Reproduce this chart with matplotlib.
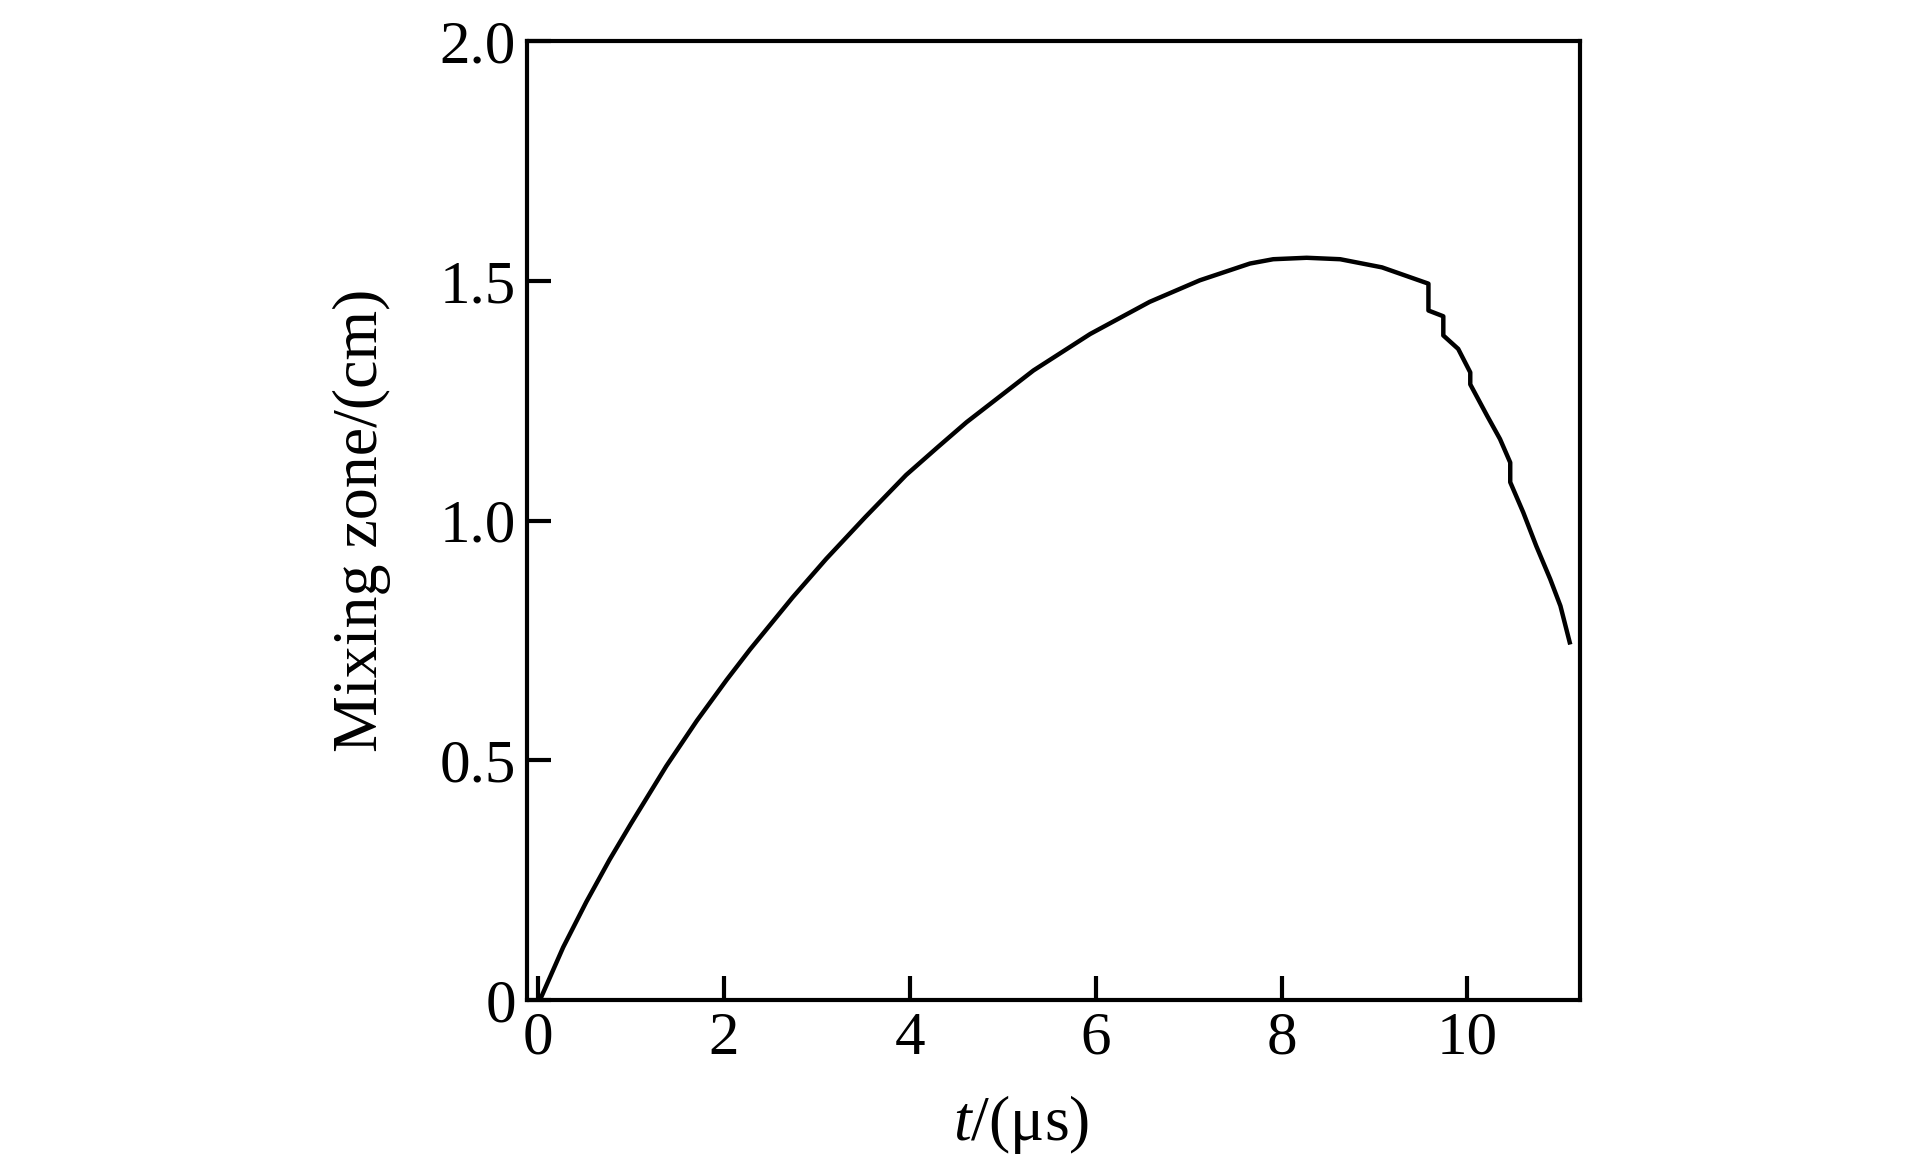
import numpy as np
import matplotlib
matplotlib.use("Agg")
import matplotlib.pyplot as plt

# Mixing zone width vs time
t_us = [0.02, 0.27, 0.52, 0.77, 1.00, 1.38, 1.71, 2.03, 2.28, 2.74, 3.10, 3.52,
        3.96, 4.30, 4.61, 5.33, 5.94, 6.58, 7.12, 7.66, 7.91, 8.27, 8.63, 9.08,
        9.58, 9.58, 9.74, 9.74, 9.90, 10.03, 10.03, 10.21, 10.35, 10.46, 10.46,
        10.60, 10.74, 10.89, 11.00, 11.10]
mix_cm = [0.0, 0.110, 0.205, 0.293, 0.368, 0.488, 0.583, 0.668, 0.731, 0.840,
          0.920, 1.007, 1.095, 1.153, 1.205, 1.313, 1.389, 1.456, 1.501, 1.536,
          1.545, 1.548, 1.545, 1.528, 1.494, 1.438, 1.426, 1.386, 1.358, 1.309,
          1.284, 1.219, 1.170, 1.121, 1.080, 1.017, 0.947, 0.878, 0.822, 0.746]

xticks = [0, 2, 4, 6, 8, 10]
yticks = [0, 0.5, 1.0, 1.5, 2.0]
ytick_labels = ["0", "0.5", "1.0", "1.5", "2.0"]

plt.rcParams['font.family'] = ['Liberation Serif', 'DejaVu Serif']
plt.rcParams['mathtext.fontset'] = 'custom'
plt.rcParams['mathtext.it'] = 'Liberation Serif:italic'
plt.rcParams['mathtext.rm'] = 'Liberation Serif'

fig = plt.figure(figsize=(19.23, 11.69), dpi=100)
ax = fig.add_axes([0.274, 0.1445, 0.5476, 0.8204])

ax.plot(t_us, mix_cm, color='black', lw=3.2, solid_joinstyle='round')

ax.set_xlim(-0.12, 11.21)
ax.set_ylim(0, 2.0)
ax.set_xticks(xticks)
ax.set_yticks(yticks)
ax.set_yticklabels(ytick_labels)

for s in ax.spines.values():
    s.set_linewidth(3.0)

ax.tick_params(direction='in', length=17, width=3.0, labelsize=44, pad=8,
               top=False, right=False)

ax.set_xlabel(r'$t$/(μs)', fontsize=46)
ax.set_ylabel('Mixing zone/(cm)', fontsize=46)
ax.xaxis.set_label_coords(0.469, -0.13)
ax.yaxis.set_label_coords(-0.157, 0.5)
ax.xaxis.label.set_va('center')
ax.yaxis.label.set_va('center')

fig.savefig('out.png', dpi=100)
